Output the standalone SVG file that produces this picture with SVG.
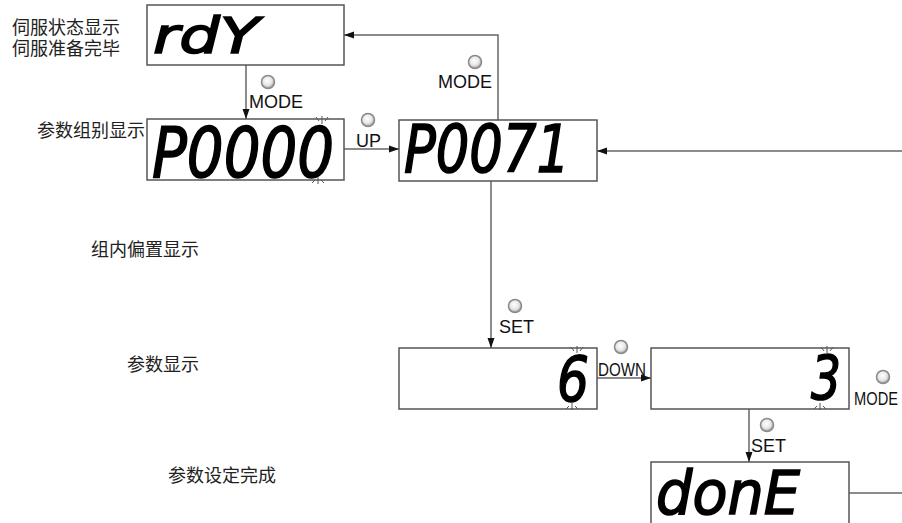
<svg xmlns="http://www.w3.org/2000/svg" width="902" height="523" viewBox="0 0 902 523">
<style>
.lbl{font-family:"Noto Sans CJK SC","Noto Sans",sans-serif;font-size:18px;fill:#222}
.key{font-family:"Liberation Sans",Arial,sans-serif;font-size:18px;fill:#111}
.box{fill:#fff;stroke:#555;stroke-width:1.5}
.seg{font-family:"DejaVu Sans","Liberation Sans",sans-serif;font-style:italic;font-weight:normal;fill:#000;stroke:#000;stroke-width:1.6}
.con{fill:none;stroke:#666;stroke-width:1.5}
.btn{fill:url(#bg);stroke:#8a8a8a;stroke-width:1.5}
.spk{stroke:#555;stroke-width:1;fill:none}
</style>
<defs>
<radialGradient id="bg" cx="0.45" cy="0.4" r="0.6">
<stop offset="0" stop-color="#ffffff"/>
<stop offset="0.6" stop-color="#e6e6e6"/>
<stop offset="1" stop-color="#9a9a9a"/>
</radialGradient>
<marker id="ah" markerUnits="userSpaceOnUse" markerWidth="10" markerHeight="10" viewBox="0 0 10 10" refX="10" refY="5" orient="auto">
<path d="M0,1.5 L10,5 L0,8.5 Z" fill="#111"/>
</marker>
</defs>

<g id="labels">
<text class="lbl" x="12" y="34" font-size="17">伺服状态显示</text>
<text class="lbl" x="12" y="55" font-size="17">伺服准备完毕</text>
<text class="lbl" x="37" y="137">参数组别显示</text>
<text class="lbl" x="91" y="256">组内偏置显示</text>
<text class="lbl" x="127" y="371">参数显示</text>
<text class="lbl" x="168" y="482">参数设定完成</text>
</g>

<g id="connectors">
<line class="con" x1="246" y1="65" x2="246" y2="119" marker-end="url(#ah)"/>
<line class="con" x1="344" y1="149" x2="399" y2="149" marker-end="url(#ah)"/>
<polyline class="con" points="498,120 498,35 344,35" marker-end="url(#ah)"/>
<line class="con" x1="902" y1="151" x2="597" y2="151" marker-end="url(#ah)"/>
<line class="con" x1="491" y1="181" x2="491" y2="348" marker-end="url(#ah)"/>
<line class="con" x1="597" y1="378" x2="651" y2="378" marker-end="url(#ah)"/>
<line class="con" x1="749" y1="409" x2="749" y2="462" marker-end="url(#ah)"/>
<line class="con" x1="849" y1="493" x2="902" y2="493"/>
</g>

<g id="keys">
<circle class="btn" cx="268" cy="82" r="6.5"/>
<text class="key" x="249" y="108">MODE</text>
<circle class="btn" cx="368" cy="120" r="6.5"/>
<text class="key" x="356" y="147">UP</text>
<circle class="btn" cx="475" cy="62" r="6.5"/>
<text class="key" x="438" y="88">MODE</text>
<circle class="btn" cx="515" cy="306" r="6.5"/>
<text class="key" x="499" y="333">SET</text>
<circle class="btn" cx="621" cy="347" r="6.5"/>
<text class="key" x="598" y="376" textLength="48" lengthAdjust="spacingAndGlyphs">DOWN</text>
<circle class="btn" cx="883" cy="377" r="6.5"/>
<text class="key" x="854" y="405" font-size="16" textLength="44" lengthAdjust="spacingAndGlyphs">MODE</text>
<circle class="btn" cx="767" cy="425" r="6.5"/>
<text class="key" x="751" y="452">SET</text>
</g>

<g id="node-rdy">
<rect class="box" x="147" y="5" width="197" height="60"/>
<text class="seg" x="153" y="53" font-size="50" textLength="106" lengthAdjust="spacingAndGlyphs">rdY</text>
</g>

<g id="node-p0000">
<rect class="box" x="147" y="119" width="197" height="61"/>
<text class="seg" x="152" y="177" font-size="70" textLength="182" lengthAdjust="spacingAndGlyphs">P0000</text>
<path class="spk" d="M322,116 V124 M316,117 L319,121 M328,117 L325,121 M318,184 V177 M312,183 L315,180 M324,183 L321,180"/>
</g>

<g id="node-p0071">
<rect class="box" x="399" y="120" width="198" height="61"/>
<text class="seg" x="404" y="172" font-size="66" textLength="166" lengthAdjust="spacingAndGlyphs">P0071</text>
</g>

<g id="node-6">
<rect class="box" x="399" y="348" width="198" height="61"/>
<text class="seg" x="557" y="401" font-size="63" textLength="32" lengthAdjust="spacingAndGlyphs">6</text>
<path class="spk" d="M577,346 V353 M571,347 L574,351 M583,347 L580,351 M572,410 V403 M566,409 L569,406 M578,409 L575,406"/>
</g>

<g id="node-3">
<rect class="box" x="651" y="348" width="198" height="61"/>
<text class="seg" x="811" y="399" font-size="61" textLength="30" lengthAdjust="spacingAndGlyphs">3</text>
<path class="spk" d="M827,346 V353 M821,347 L824,351 M833,347 L830,351 M820,410 V403 M814,409 L817,406 M826,409 L823,406"/>
</g>

<g id="node-done">
<rect class="box" x="651" y="462" width="198" height="70"/>
<text class="seg" x="656" y="514" font-size="60" textLength="144" lengthAdjust="spacingAndGlyphs">donE</text>
</g>
</svg>
